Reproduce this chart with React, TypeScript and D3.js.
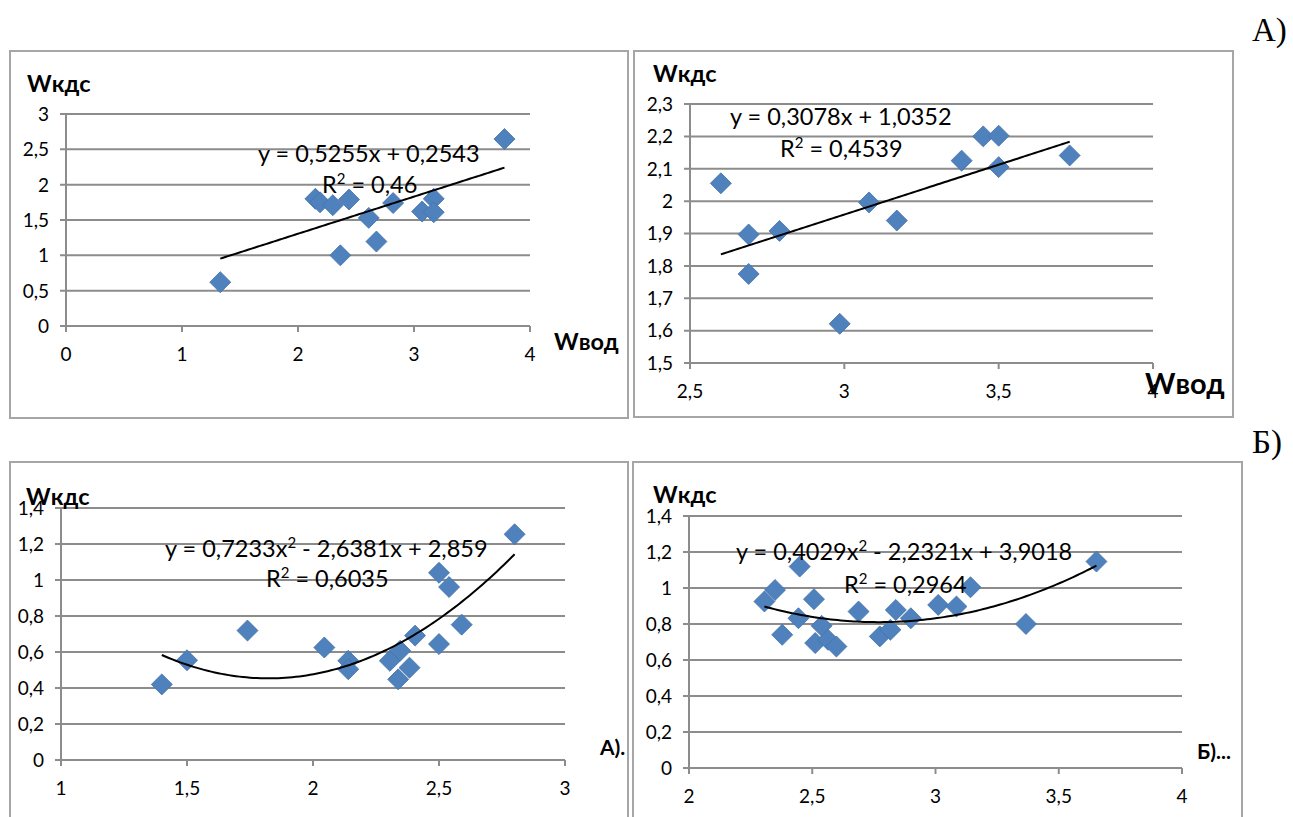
import React from "react";
import * as d3 from "d3";

// ---- Data ----
const p1X = [1.33, 2.15, 2.19, 2.30, 2.365, 2.44, 2.61, 2.676, 2.82, 3.07, 3.17, 3.17, 3.78];
const p1Y = [0.62, 1.80, 1.75, 1.71, 1.00, 1.79, 1.53, 1.195, 1.74, 1.62, 1.80, 1.61, 2.645];
const p1XTicks = [0, 1, 2, 3, 4];
const p1YTicks = [0, 0.5, 1, 1.5, 2, 2.5, 3];
const p1Coef = [0, 0.5255, 0.2543];
const p1Eq = "y = 0,5255x + 0,2543";
const p1R2 = "0,46";

const p2X = [2.60, 2.69, 2.69, 2.79, 2.985, 3.08, 3.17, 3.38, 3.45, 3.50, 3.50, 3.73];
const p2Y = [2.055, 1.897, 1.775, 1.908, 1.621, 1.996, 1.94, 2.125, 2.20, 2.202, 2.105, 2.141];
const p2XTicks = [2.5, 3, 3.5, 4];
const p2YTicks = [1.5, 1.6, 1.7, 1.8, 1.9, 2, 2.1, 2.2, 2.3];
const p2Coef = [0, 0.3078, 1.0352];
const p2Eq = "y = 0,3078x + 1,0352";
const p2R2 = "0,4539";

const p3X = [1.40, 1.50, 1.74, 2.045, 2.14, 2.14, 2.305, 2.338, 2.346, 2.383, 2.405, 2.50, 2.50, 2.54, 2.59, 2.80];
const p3Y = [0.42, 0.554, 0.719, 0.625, 0.551, 0.504, 0.551, 0.448, 0.607, 0.513, 0.691, 0.644, 1.04, 0.961, 0.752, 1.254];
const p3XTicks = [1, 1.5, 2, 2.5, 3];
const p3YTicks = [0, 0.2, 0.4, 0.6, 0.8, 1, 1.2, 1.4];
const p3Coef = [0.7233, -2.6381, 2.859];
const p3EqA = "y = 0,7233x";
const p3EqB = " - 2,6381x + 2,859";
const p3R2 = "0,6035";

const p4X = [2.306, 2.349, 2.378, 2.449, 2.444, 2.507, 2.512, 2.538, 2.564, 2.598, 2.688, 2.774, 2.817, 2.839, 2.90, 3.011, 3.085, 3.142, 3.367, 3.653];
const p4Y = [0.925, 0.989, 0.74, 1.119, 0.832, 0.938, 0.694, 0.79, 0.712, 0.675, 0.869, 0.731, 0.768, 0.878, 0.832, 0.906, 0.897, 1.004, 0.80, 1.147];
const p4XTicks = [2, 2.5, 3, 3.5, 4];
const p4YTicks = [0, 0.2, 0.4, 0.6, 0.8, 1, 1.2, 1.4];
const p4Coef = [0.4029, -2.2321, 3.9018];
const p4EqA = "y = 0,4029x";
const p4EqB = " - 2,2321x + 3,9018";
const p4R2 = "0,2964";

const yTitle = "Wкдс";
const xTitle = "Wвод";

const FONT = "Lato, 'Open Sans', sans-serif";
const GRID = "#8c8c8c";
const BORDER = "#a6a6a6";
const BLUE = "#4F81BD";

const fmt = (v: number) => String(v).replace(".", ",");

type PanelProps = {
  box: [number, number, number, number];
  plot: { l: number; r: number; t: number; b: number };
  xs: number[];
  ys: number[];
  xTicks: number[];
  yTicks: number[];
  coef: number[];
  eq: React.ReactNode;
  eqPos: [number, number];
  r2: string;
  r2Pos: [number, number];
  yTitlePos: [number, number];
  yTitleSize: number;
  corner: { text: string; x: number; y: number; size: number };
};

const diamond = d3.symbol(d3.symbolSquare, 220)() as string;

function Panel(p: PanelProps) {
  const x = d3.scaleLinear().domain([p.xTicks[0], p.xTicks[p.xTicks.length - 1]]).range([p.plot.l, p.plot.r]);
  const y = d3.scaleLinear().domain([p.yTicks[0], p.yTicks[p.yTicks.length - 1]]).range([p.plot.b, p.plot.t]);
  const x0 = d3.min(p.xs)!;
  const x1 = d3.max(p.xs)!;
  const f = (v: number) => p.coef[0] * v * v + p.coef[1] * v + p.coef[2];
  const samples = d3.range(0, 101).map((i) => x0 + ((x1 - x0) * i) / 100);
  const line = d3.line<number>().x((v) => x(v)).y((v) => y(f(v)))(samples) as string;
  const [bx0, by0, bx1, by1] = p.box;
  return (
    <g>
      <rect x={bx0} y={by0} width={bx1 - bx0} height={by1 - by0} fill="white" stroke={BORDER} strokeWidth={2} />
      {p.yTicks.map((t) => (
        <line key={"g" + t} x1={p.plot.l - 6} x2={p.plot.r} y1={y(t)} y2={y(t)} stroke={GRID} strokeWidth={2} />
      ))}
      <line x1={p.plot.l} x2={p.plot.l} y1={p.plot.t} y2={p.plot.b} stroke={GRID} strokeWidth={2} />
      {p.xTicks.map((t) => (
        <line key={"xt" + t} x1={x(t)} x2={x(t)} y1={p.plot.b} y2={p.plot.b + 6} stroke={GRID} strokeWidth={2} />
      ))}
      {p.yTicks.map((t) => (
        <text key={"yl" + t} x={p.plot.l - 17} y={y(t)} dy="0.36em" textAnchor="end" fontFamily={FONT} fontSize={19} fill="#000">
          {fmt(t)}
        </text>
      ))}
      {p.xTicks.map((t) => (
        <text key={"xl" + t} x={x(t)} y={p.plot.b + 35} textAnchor="middle" fontFamily={FONT} fontSize={19} fill="#000">
          {fmt(t)}
        </text>
      ))}
      {p.xs.map((v, i) => (
        <path key={"pt" + i} d={diamond} transform={`translate(${x(v)},${y(p.ys[i])}) rotate(45)`} fill={BLUE} stroke="#4674ab" strokeWidth={0.8} />
      ))}
      <path d={line} fill="none" stroke="#000" strokeWidth={2} />
      <text x={p.eqPos[0]} y={p.eqPos[1]} fontFamily={FONT} fontSize={23.5} fill="#000">
        {p.eq}
      </text>
      <text x={p.r2Pos[0]} y={p.r2Pos[1]} fontFamily={FONT} fontSize={23.5} fill="#000">
        R<tspan fontSize={15} dy={-9}>2</tspan>
        <tspan dy={9}>{" = " + p.r2}</tspan>
      </text>
      <text x={p.yTitlePos[0]} y={p.yTitlePos[1]} fontFamily={FONT} fontWeight="bold" fontSize={p.yTitleSize} fill="#000">
        {yTitle}
      </text>
      <text x={p.corner.x} y={p.corner.y} fontFamily={FONT} fontWeight="bold" fontSize={p.corner.size} fill="#000">
        {p.corner.text}
      </text>
    </g>
  );
}

const quadEq = (a: string, b: string) => (
  <>
    {a}
    <tspan fontSize={15} dy={-9}>2</tspan>
    <tspan dy={9}>{b}</tspan>
  </>
);

export default function App() {
  return (
    <svg width={1293} height={817} style={{ position: "absolute", left: 0, top: 0, background: "white" }}>
      <rect x={0} y={0} width={1293} height={817} fill="white" />
      <Panel
        box={[10, 51, 628, 418]}
        plot={{ l: 66, r: 530, t: 114, b: 326 }}
        xs={p1X}
        ys={p1Y}
        xTicks={p1XTicks}
        yTicks={p1YTicks}
        coef={p1Coef}
        eq={p1Eq}
        eqPos={[258, 162]}
        r2={p1R2}
        r2Pos={[322, 193]}
        yTitlePos={[27, 92]}
        yTitleSize={23.5}
        corner={{ text: xTitle, x: 554, y: 350, size: 23.5 }}
      />
      <Panel
        box={[634, 51, 1233, 417]}
        plot={{ l: 690, r: 1153, t: 104, b: 363 }}
        xs={p2X}
        ys={p2Y}
        xTicks={p2XTicks}
        yTicks={p2YTicks}
        coef={p2Coef}
        eq={p2Eq}
        eqPos={[730, 125]}
        r2={p2R2}
        r2Pos={[780, 157]}
        yTitlePos={[653, 82]}
        yTitleSize={23.5}
        corner={{ text: xTitle, x: 1145, y: 394, size: 29 }}
      />
      <Panel
        box={[10, 462, 628, 830]}
        plot={{ l: 61, r: 565, t: 508, b: 760 }}
        xs={p3X}
        ys={p3Y}
        xTicks={p3XTicks}
        yTicks={p3YTicks}
        coef={p3Coef}
        eq={quadEq(p3EqA, p3EqB)}
        eqPos={[165, 557]}
        r2={p3R2}
        r2Pos={[266, 587]}
        yTitlePos={[26, 505]}
        yTitleSize={23.5}
        corner={{ text: "А).", x: 600, y: 755, size: 21 }}
      />
      <Panel
        box={[633, 462, 1242, 830]}
        plot={{ l: 689, r: 1182, t: 516, b: 768 }}
        xs={p4X}
        ys={p4Y}
        xTicks={p4XTicks}
        yTicks={p4YTicks}
        coef={p4Coef}
        eq={quadEq(p4EqA, p4EqB)}
        eqPos={[736, 560]}
        r2={p4R2}
        r2Pos={[844, 593]}
        yTitlePos={[653, 503]}
        yTitleSize={23.5}
        corner={{ text: "Б)...", x: 1197, y: 759, size: 21 }}
      />
      <text x={1252} y={41} fontFamily="'Liberation Serif', 'Times New Roman', serif" fontSize={33} fill="#000">А)</text>
      <text x={1252} y={453} fontFamily="'Liberation Serif', 'Times New Roman', serif" fontSize={33} fill="#000">Б)</text>
    </svg>
  );
}
